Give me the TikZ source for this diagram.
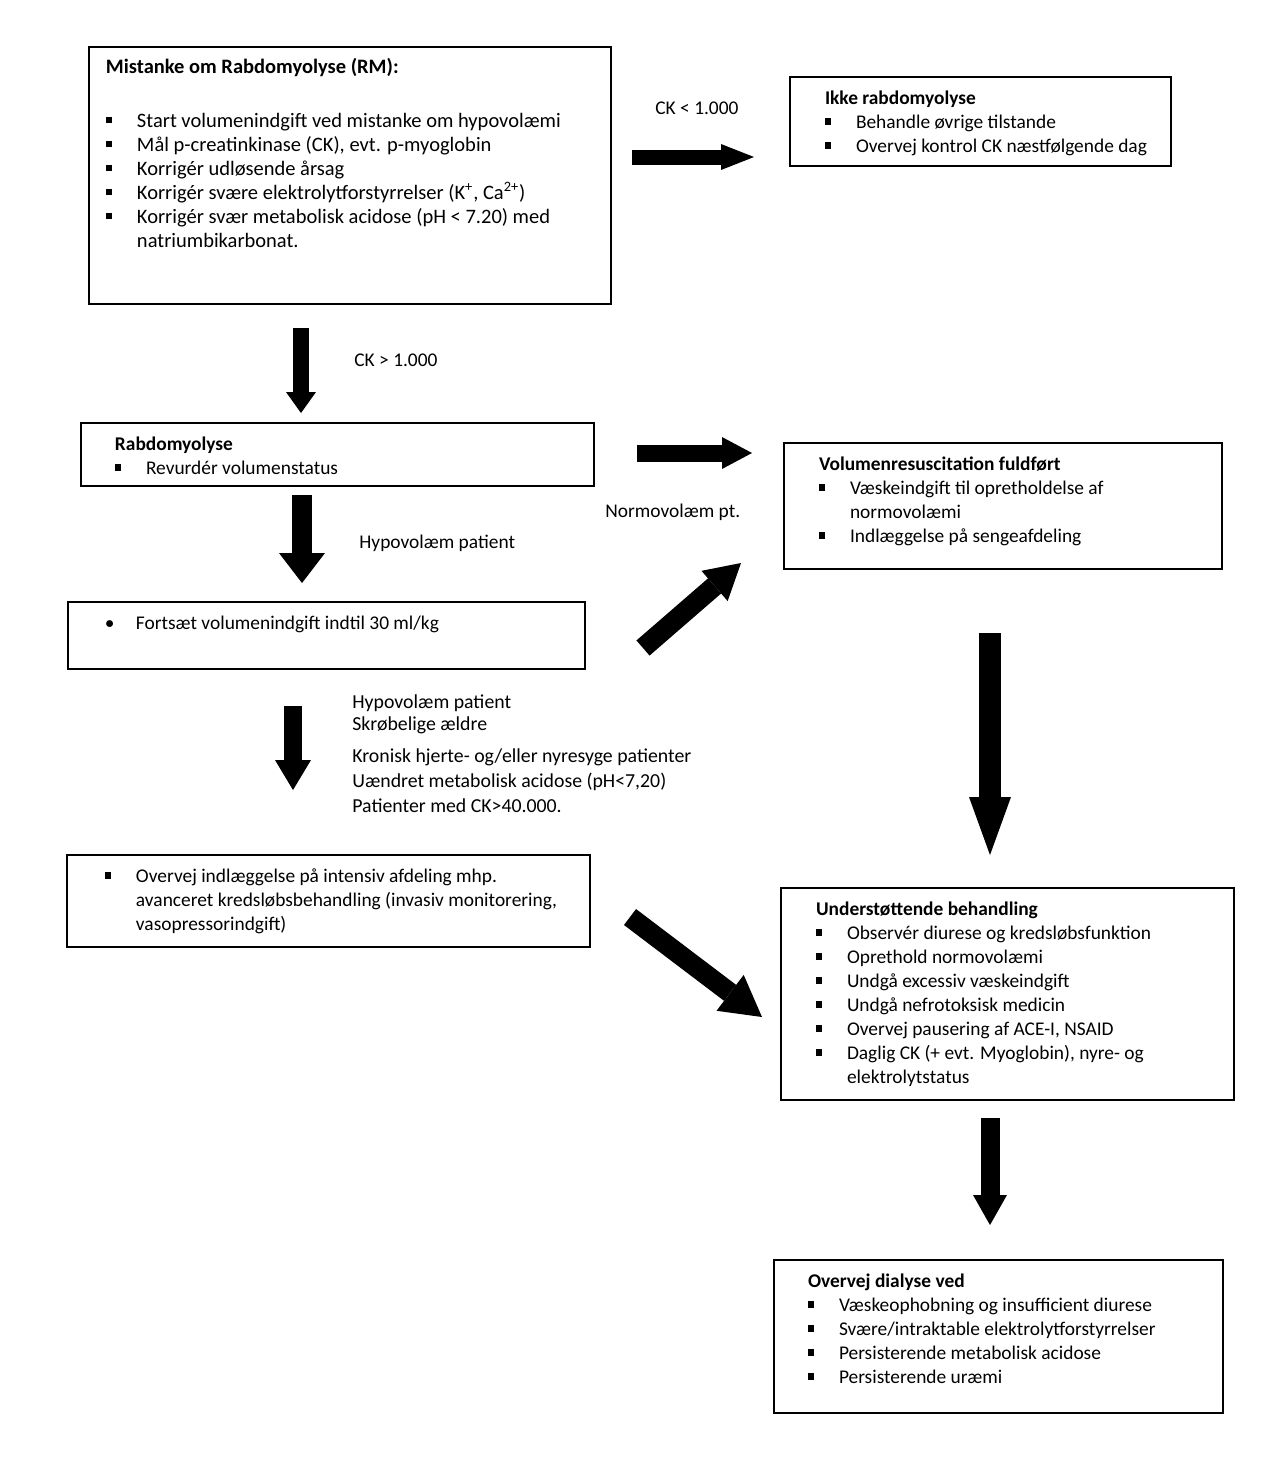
\documentclass[tikz,border=0pt]{standalone}
\usepackage{fontspec}
\setmainfont{Carlito}
\usepackage{tikz}
\usetikzlibrary{arrows.meta}
\tikzset{boks/.style={draw=black,line width=1pt,inner xsep=0pt,inner ysep=7pt,
 anchor=north west,font=\fontsize{9.7}{12}\selectfont},
 etiket/.style={anchor=west,inner sep=0pt,align=left,font=\fontsize{9.7}{12}\selectfont},
 blokpil/.style n args={3}{draw=black,line width=#1,
 -{Triangle[length=#3,width=#2,line width=0pt]}}}
\newcommand{\pkt}[1]{\par\hangindent=15.5pt\hangafter=1\noindent
 \makebox[15.5pt][l]{\rule[2pt]{3.2pt}{3.2pt}}#1}
\newcommand{\rund}[1]{\par\hangindent=15.5pt\hangafter=1\noindent
 \makebox[15.5pt][l]{•}#1}
\newcommand{\overskrift}[1]{\noindent\textbf{#1}}
% [ekstra], navn, x, y, bredde, hoejde, indryk, tekst
\newcommand{\boks}[8][]{%
 \node[boks,#1] (#2) at (#3,#4)
  {\hspace*{#7}\parbox[t][\dimexpr#6-14pt\relax][t]{\dimexpr#5-#7\relax}{\raggedright#8}};}

\begin{document}
\begin{tikzpicture}[x=0.5pt,y=-0.5pt]
 \useasboundingbox (0,0) rectangle (1278,1464);
 % kasser
 \boks[inner ysep=5.5pt,font=\fontsize{10.25}{12}\selectfont]{mistanke}{88}{46}{261pt}{131.5pt}{8.5pt}{%
  \overskrift{Mistanke om Rabdomyolyse (RM):}\par\vspace{15pt}
  \pkt{Start volumenindgift ved mistanke om hypovolæmi}
  \pkt{Mål p-creatinkinase (CK), evt. p-myoglobin}
  \pkt{Korrigér udløsende årsag}
  \pkt{Korrigér svære elektrolytforstyrrelser (K\textsuperscript{+}, Ca\textsuperscript{2+})}
  \pkt{Korrigér svær metabolisk acidose (pH < 7.20) med\newline natriumbikarbonat.}}
 \boks{ikke}{789}{76}{190.5pt}{44.5pt}{17.5pt}{%
  \overskrift{Ikke rabdomyolyse}
  \pkt{Behandle øvrige tilstande}
  \pkt{Overvej kontrol CK næstfølgende dag}}
 \boks{rabdo}{80}{422}{256.5pt}{31.5pt}{17pt}{%
  \overskrift{Rabdomyolyse}
  \pkt{Revurdér volumenstatus}}
 \boks{fuldfoert}{783}{442}{219pt}{63pt}{17.5pt}{%
  \overskrift{Volumenresuscitation fuldført}
  \pkt{Væskeindgift til opretholdelse af\newline normovolæmi}
  \pkt{Indlæggelse på sengeafdeling}}
 \boks{fortsaet}{67}{601}{258.5pt}{33.5pt}{18.5pt}{%
  \rund{Fortsæt volumenindgift indtil 30 ml/kg}}
 \boks{intensiv}{66}{854}{261.5pt}{46pt}{19pt}{%
  \pkt{Overvej indlæggelse på intensiv afdeling mhp.\newline avanceret kredsløbsbehandling (invasiv monitorering,\newline vasopressorindgift)}}
 \boks{understoet}{780}{887}{226.5pt}{106pt}{17.5pt}{%
  \overskrift{Understøttende behandling}
  \pkt{Observér diurese og kredsløbsfunktion}
  \pkt{Opretho{}ld normovolæmi}
  \pkt{Undgå excessiv væskeindgift}
  \pkt{Undgå nefrotoksisk medicin}
  \pkt{Overvej pausering af ACE-I, NSAID}
  \pkt{Daglig CK (+ evt. Myoglobin), nyre- og\newline elektrolytstatus}}
 \boks{dialyse}{773}{1259}{224.5pt}{76.5pt}{17pt}{%
  \overskrift{Overvej dialyse ved}
  \pkt{Væskeophobning og insufficient diurese}
  \pkt{Svære/intraktable elektrolytforstyrrelser}
  \pkt{Persisterende metabolisk acidose}
  \pkt{Persisterende uræmi}}
 % etiketter
 \node[etiket] (ckmindre) at (655,108) {CK < 1.000};
 \node[etiket] (ckstoerre) at (354,360) {CK > 1.000};
 \node[etiket] (normo) at (605,512) {Normovolæm pt.};
 \node[etiket] (hypo) at (359,543) {Hypovolæm patient};
 \node[etiket,anchor=north west,font=\fontsize{9.9}{12}\selectfont] (kriterier) at (352,694)
  {Hypovolæm patient\\[-1pt]Skrøbelige ældre\\[4pt]Kronisk hjerte- og/eller nyresyge patienter\\[0.5pt]
   Uændret metabolisk acidose (pH<7,20)\\[0.5pt]Patienter med CK>40.000.};
 % pile
 \coordinate (p1a) at (632,157);  \coordinate (p1b) at (754,157);
 \coordinate (p2a) at (301,328);  \coordinate (p2b) at (301,413);
 \coordinate (p3a) at (637,453);  \coordinate (p3b) at (752,453);
 \coordinate (p4a) at (302,495);  \coordinate (p4b) at (302,583);
 \coordinate (p5a) at (643,648);  \coordinate (p5b) at (741,563);
 \coordinate (p6a) at (293,706);  \coordinate (p6b) at (293,790);
 \coordinate (p7a) at (630,917);  \coordinate (p7b) at (762,1017);
 \coordinate (p8a) at (990,633);  \coordinate (p8b) at (990,855);
 \coordinate (p9a) at (990,1118); \coordinate (p9b) at (990,1225);
 \draw[blokpil={7.5pt}{13pt}{16.5pt}] (p1a) -- (p1b);
 \draw[blokpil={8pt}{15pt}{10.5pt}] (p2a) -- (p2b);
 \draw[blokpil={8.5pt}{16pt}{15pt}] (p3a) -- (p3b);
 \draw[blokpil={10pt}{23pt}{15pt}] (p4a) -- (p4b);
 \draw[blokpil={10pt}{20pt}{17.5pt}] (p5a) -- (p5b);
 \draw[blokpil={9pt}{18pt}{15pt}] (p6a) -- (p6b);
 \draw[blokpil={10pt}{22.5pt}{20pt}] (p7a) -- (p7b);
 \draw[blokpil={11pt}{21pt}{29pt}] (p8a) -- (p8b);
 \draw[blokpil={9.5pt}{17pt}{15pt}] (p9a) -- (p9b);
\end{tikzpicture}
\end{document}
